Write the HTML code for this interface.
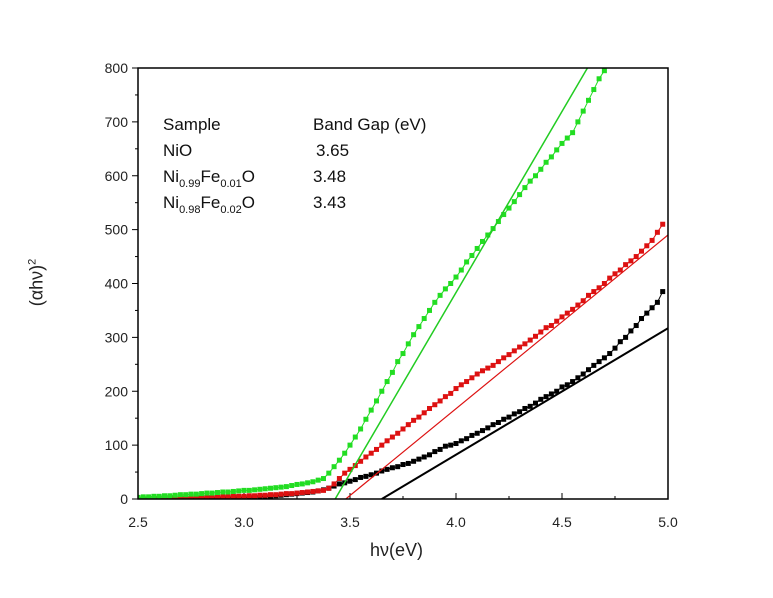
<!DOCTYPE html>
<html><head><meta charset="utf-8"><style>
body{margin:0;background:#fff;width:773px;height:598px;overflow:hidden;font-family:"Liberation Sans",sans-serif}
.row{height:26px;line-height:26px;white-space:nowrap}
.row sub{font-size:11px;vertical-align:baseline;position:relative;top:5px;line-height:0}
</style></head><body>
<svg id="chart" width="773" height="598" font-family="Liberation Sans, sans-serif" style="position:absolute;left:0;top:0"></svg>
<script>
const xStart=2.5, xStep=0.025;
const ysBlack=[0,0,0,0,0,1,1,1,1,1,1,2,2,2,2,2,2,3,3,3,3,
3,4,4,5,5,6,7,8,9,10,11,12,13,15,17,
20,24,28,30,33,36,40,42,45,48,52,55,58,60,64,66,70,74,78,82,88,92,98,100,
103,108,112,118,122,127,132,138,142,148,152,158,162,168,172,178,185,190,195,200,208,212,218,225,232,240,248,255,262,270,280,292,300,312,322,335,345,355,365,385];
const ysRed=[0,0,0,0,1,1,1,1,2,2,2,3,3,3,3,4,4,4,5,5,5,
6,6,7,7,8,8,9,10,10,11,12,13,14,15,16,
20,28,38,48,55,62,70,78,85,92,100,108,115,122,130,138,146,152,160,168,175,182,190,196,
205,212,218,225,232,238,243,248,255,262,268,275,282,288,295,302,310,318,322,330,338,345,352,360,368,378,385,392,400,410,418,425,435,442,450,460,470,480,495,510];
const ysGreen=[3,4,4,5,5,6,6,7,8,8,9,9,10,11,11,12,13,13,14,15,16,
16,17,18,19,20,21,22,23,25,27,28,30,32,35,38,
48,60,72,85,100,115,130,148,165,182,200,218,235,255,270,288,305,320,335,350,365,378,390,400,
412,425,440,452,465,478,490,502,515,528,540,552,565,578,590,600,612,625,635,648,660,670,680,700,720,740,760,780,795];
const fitBlack=[3.65,0,5.0,317];
const fitRed=[3.48,0,5.0,490];
const fitGreen=[3.43,0,4.62,800];
const xTicks=[2.5,3.0,3.5,4.0,4.5,5.0];
const yTicks=[0,100,200,300,400,500,600,700,800];
const X0=138,X1=668,Y0=499,Y1=68;
const sx=v=>X0+(v-2.5)/(2.5)*(X1-X0);
const sy=v=>Y0-v/800*(Y0-Y1);
const svg=document.getElementById('chart');
const NS='http://www.w3.org/2000/svg';
function mk(t,a,p){const e=document.createElementNS(NS,t);for(const k in a)e.setAttribute(k,a[k]);(p||svg).appendChild(e);return e;}
const clip=mk('clipPath',{id:'pc'});mk('rect',{x:X0,y:Y1,width:X1-X0,height:Y0-Y1},clip);
xTicks.forEach((t,i)=>{
 const l=mk('line',{x1:sx(t),x2:sx(t),y1:Y0,y2:Y0-6,stroke:'#000','stroke-width':1});
 
 
 if(i<xTicks.length-1){const m=mk('line',{x1:sx(t+0.25),x2:sx(t+0.25),y1:Y0,y2:Y0-3,stroke:'#000'});}
 const tx=mk('text',{x:sx(t),y:Y0+28,'text-anchor':'middle','font-size':14,fill:'#222'});tx.textContent=t.toFixed(1);
 
 
});
yTicks.forEach((t,i)=>{
 const l=mk('line',{x1:X0,x2:X0-6,y1:sy(t),y2:sy(t),stroke:'#000'});
 
 
 if(i<yTicks.length-1){const m=mk('line',{x1:X0,x2:X0-3,y1:sy(t+50),y2:sy(t+50),stroke:'#000'});}
 const tx=mk('text',{x:X0-10,y:sy(t)+5,'text-anchor':'end','font-size':14,fill:'#222'});tx.textContent=t;
 
 
});
function series(ys,col,name){
 const g=mk('g',{'clip-path':'url(#pc)'});
 
 
 const xv=i=>xStart+i*xStep;
 mk('polyline',{points:ys.map((y,i)=>sx(xv(i))+','+sy(y)).join(' '),fill:'none',stroke:col,'stroke-width':1},g);
 ys.forEach((y,i)=>{const r=mk('rect',{x:sx(xv(i))-2.5,y:sy(y)-2.5,width:5,height:5,fill:col},g);
  
  });
}
function fit(f,col,name,w){
 const l=mk('line',{x1:sx(f[0]),y1:sy(f[1]),x2:sx(f[2]),y2:sy(f[3]),stroke:col,'stroke-width':w,'clip-path':'url(#pc)'});
 
 
}
series(ysBlack,'#000','nio-series');
series(ysRed,'#dd1111','fe001-series');
series(ysGreen,'#22dd22','fe002-series');
fit(fitBlack,'#000','nio-fit-line',2);
fit(fitRed,'#dd1111','fe001-fit-line',1.2);
fit(fitGreen,'#22cc22','fe002-fit-line',1.5);
const frame=mk('rect',{x:X0,y:Y1,width:X1-X0,height:Y0-Y1,fill:'none',stroke:'#000','stroke-width':1.5});


</script>
<div style="position:absolute;left:163px;top:112px;font-size:17px;color:#111">
 <div class="row"><span style="display:inline-block;width:150px">Sample</span>Band Gap (eV)</div>
 <div class="row"><span style="display:inline-block;width:153px">NiO</span>3.65</div>
 <div class="row"><span style="display:inline-block;width:150px">Ni<sub>0.99</sub>Fe<sub>0.01</sub>O</span>3.48</div>
 <div class="row"><span style="display:inline-block;width:150px">Ni<sub>0.98</sub>Fe<sub>0.02</sub>O</span>3.43</div>
</div>
<div style="position:absolute;left:370px;top:540px;font-size:18px;color:#222">hν(eV)</div>
<div style="position:absolute;left:2px;top:272px;font-size:18px;color:#222;transform:rotate(-90deg);width:70px;text-align:center">(αhν)<sup style="font-size:11px">2</sup></div>
</body></html>
